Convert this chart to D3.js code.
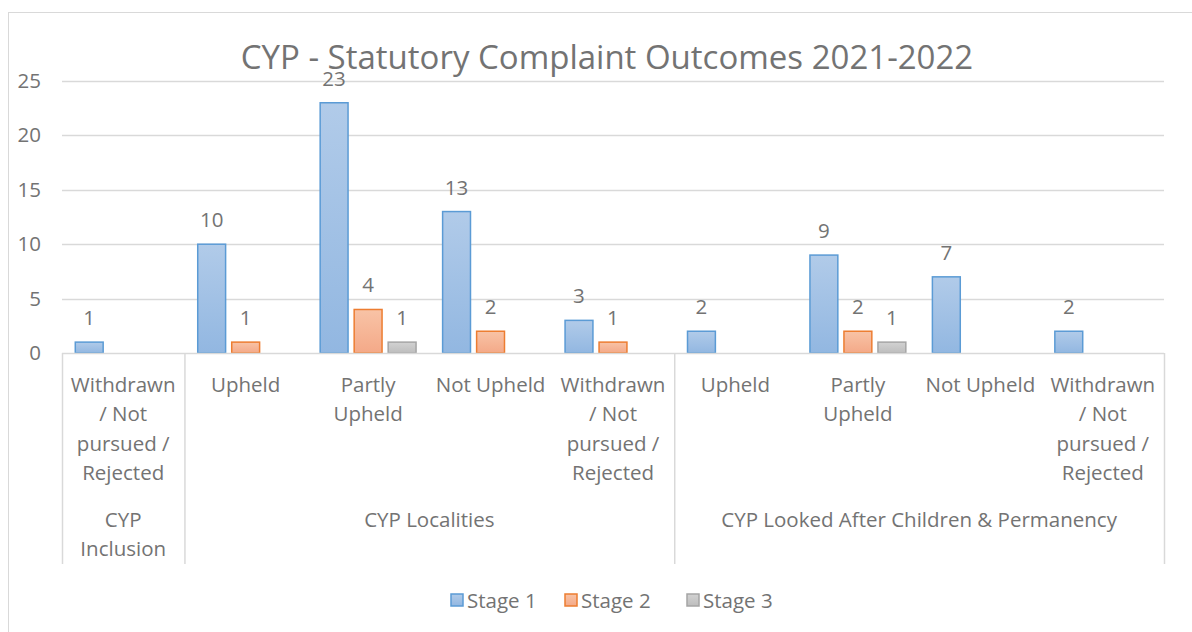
<!DOCTYPE html>
<html>
<head>
<meta charset="utf-8">
<script src="https://cdn.jsdelivr.net/npm/d3@7"></script>
<style>
  body { margin: 0; background: #fff; }
  text { font-family: "Open Sans", Carlito, Calibri, sans-serif; fill: #737373; }
</style>
</head>
<body>
<div id="chart"></div>
<script>
// chart data
let title = "CYP - Statutory Complaint Outcomes 2021-2022";
let stages = ["Stage 1", "Stage 2", "Stage 3"];
let outcomes = [
  "Withdrawn\n/ Not\npursued /\nRejected", "Upheld", "Partly\nUpheld", "Not Upheld",
  "Withdrawn\n/ Not\npursued /\nRejected", "Upheld", "Partly\nUpheld", "Not Upheld",
  "Withdrawn\n/ Not\npursued /\nRejected"
];
let groups = ["CYP\nInclusion", "CYP Localities", "CYP Looked After Children & Permanency"];
let groupSizes = [1, 4, 4];
let stage1 = [1, 10, 23, 13, 3, 2, 9, 7, 2];
let stage2 = [0, 1, 4, 2, 1, 0, 2, 0, 0];
let stage3 = [0, 0, 1, 0, 0, 0, 1, 0, 0];
let yTicks = [0, 5, 10, 15, 20, 25];

let chartW = 1192, chartH = 632;
let plotLeft = 62, plotRight = 1164, plotTop = 81, plotBase = 353;
let fontSize = 20.5;
let strokes = ["#5b9bd5", "#ed7d31", "#a5a5a5"];
let gradTop = ["#b1cbe9", "#f8c3a6", "#d2d2d2"];
let gradBot = ["#92b7e1", "#f4a988", "#bdbdbd"];
let seriesVals = [stage1, stage2, stage3];

let svg = d3.select("#chart").append("svg")
  .attr("width", chartW)
  .attr("height", chartH);

// gradients for the bars
let defs = svg.append("defs");
stages.forEach(function(s, i) {
  let g = defs.append("linearGradient")
    .attr("id", "grad" + i)
    .attr("x1", 0).attr("y1", 0).attr("x2", 0).attr("y2", 1);
  g.append("stop").attr("offset", "0%").attr("stop-color", gradTop[i]);
  g.append("stop").attr("offset", "100%").attr("stop-color", gradBot[i]);
});

// outer frame
svg.append("rect")
  .attr("x", 8.5).attr("y", 12.5)
  .attr("width", 1300).attr("height", 700)
  .attr("fill", "none")
  .attr("stroke", "#d9d9d9");

let x0 = d3.scaleBand()
  .domain(d3.range(outcomes.length))
  .range([plotLeft, plotRight]);

let x1 = d3.scaleBand()
  .domain(stages)
  .range([x0.bandwidth() / 2 - 51, x0.bandwidth() / 2 + 51])
  .paddingInner(0.18)
  .paddingOuter(0.09);

let y = d3.scaleLinear()
  .domain([0, 25])
  .range([plotBase, plotTop]);

// gridlines
svg.append("g")
  .selectAll("line")
  .data(yTicks.filter(d => d > 0))
  .enter().append("line")
  .attr("x1", plotLeft).attr("x2", plotRight)
  .attr("y1", d => Math.round(y(d)) + 0.5)
  .attr("y2", d => Math.round(y(d)) + 0.5)
  .attr("stroke", "#d9d9d9")
  .attr("stroke-width", 1.5);

// y axis labels
let yAxis = d3.axisLeft(y).tickValues(yTicks).tickSize(0).tickPadding(0);
let gy = svg.append("g")
  .attr("transform", "translate(41,0)")
  .call(yAxis);
gy.select(".domain").remove();
gy.selectAll("text")
  .attr("font-size", fontSize)
  .attr("fill", "#737373")
  .style("font-family", "'Open Sans', Carlito, Calibri, sans-serif");

// bars
let catG = svg.append("g")
  .selectAll("g")
  .data(outcomes.map((o, i) => i))
  .enter().append("g")
  .attr("transform", d => "translate(" + x0(d) + ",0)");

catG.selectAll("rect")
  .data(i => stages.map((s, k) => ({ k: k, s: s, v: seriesVals[k][i] })).filter(d => d.v > 0))
  .enter().append("rect")
  .attr("x", d => x1(d.s))
  .attr("y", d => y(d.v))
  .attr("width", x1.bandwidth())
  .attr("height", d => plotBase - y(d.v))
  .attr("fill", d => "url(#grad" + d.k + ")")
  .attr("stroke", d => strokes[d.k])
  .attr("stroke-width", 1.5);

catG.selectAll("text.val")
  .data(i => stages.map((s, k) => ({ k: k, s: s, v: seriesVals[k][i] })).filter(d => d.v > 0))
  .enter().append("text")
  .attr("class", "val")
  .attr("x", d => x1(d.s) + x1.bandwidth() / 2)
  .attr("y", d => y(d.v) - 17)
  .attr("text-anchor", "middle")
  .attr("font-size", fontSize)
  .text(d => d.v);

// x axis line
svg.append("line")
  .attr("x1", plotLeft).attr("x2", plotRight)
  .attr("y1", plotBase + 0.5).attr("y2", plotBase + 0.5)
  .attr("stroke", "#d9d9d9")
  .attr("stroke-width", 1.5);

// group boundaries
let bounds = [0];
groupSizes.forEach(function(n, i) { bounds.push(bounds[i] + n); });
let boundX = d => (d < outcomes.length ? x0(d) : plotRight);
svg.append("g")
  .selectAll("line")
  .data(bounds)
  .enter().append("line")
  .attr("x1", d => boundX(d) + 0.5)
  .attr("x2", d => boundX(d) + 0.5)
  .attr("y1", plotBase).attr("y2", 564)
  .attr("stroke", "#d9d9d9")
  .attr("stroke-width", 1.5);

// multi-line labels
function multiline(sel, lineH) {
  sel.each(function(d) {
    let t = d3.select(this);
    d.split("\n").forEach(function(line, j) {
      t.append("tspan")
        .attr("x", t.attr("x"))
        .attr("dy", j == 0 ? 0 : lineH)
        .text(line);
    });
  });
}

// outcome labels
svg.append("g")
  .selectAll("text")
  .data(outcomes)
  .enter().append("text")
  .attr("text-anchor", "middle")
  .attr("font-size", fontSize)
  .attr("x", (d, i) => x0(i) + x0.bandwidth() / 2)
  .attr("y", 392)
  .call(multiline, 29.3);

// group labels
svg.append("g")
  .selectAll("text")
  .data(groups)
  .enter().append("text")
  .attr("text-anchor", "middle")
  .attr("font-size", fontSize)
  .attr("x", (d, i) => (boundX(bounds[i]) + boundX(bounds[i + 1])) / 2)
  .attr("y", 527)
  .call(multiline, 29.3);

// title
svg.append("text")
  .attr("x", 607)
  .attr("y", 69)
  .attr("text-anchor", "middle")
  .attr("font-size", 33)
  .text(title);

// legend
let legend = svg.append("g").attr("transform", "translate(0,600)");
let legendX = [451, 565, 687];
stages.forEach(function(s, i) {
  legend.append("rect")
    .attr("x", legendX[i]).attr("y", -6)
    .attr("width", 12).attr("height", 12)
    .attr("fill", "url(#grad" + i + ")")
    .attr("stroke", strokes[i])
    .attr("stroke-width", 1.5);
  legend.append("text")
    .attr("x", legendX[i] + 16)
    .attr("y", 7.5)
    .attr("font-size", fontSize)
    .text(s);
});
</script>
</body>
</html>
